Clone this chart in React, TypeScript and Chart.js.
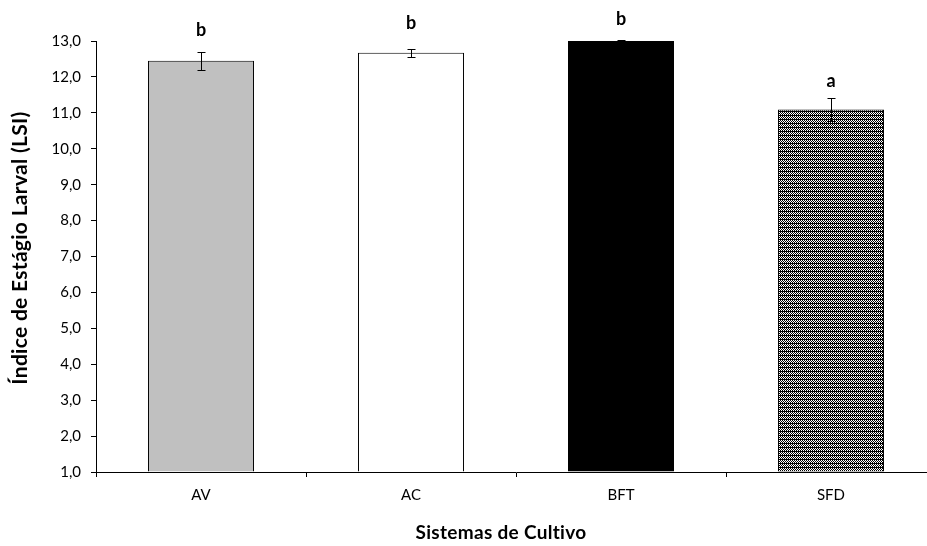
import React, { useEffect, useRef } from "react";
import { Chart, registerables } from "chart.js";

Chart.register(...registerables);

const categories = ["AV", "AC", "BFT", "SFD"];
const means = [12.45, 12.67, 13.0, 11.09];
const errors = [0.25, 0.12, 0.03, 0.33];
const letters = ["b", "b", "b", "a"];
const letterLevels = [13.13, 13.33, 13.44, 11.72];
const yMin = 1;
const yMax = 13;
const yStep = 1;
const yTitle = "Índice de Estágio Larval (LSI)";
const xTitle = "Sistemas de Cultivo";

const FONT = "Lato, 'Open Sans', sans-serif";

function makePattern(): CanvasPattern | string {
  const c = document.createElement("canvas");
  c.width = 2;
  c.height = 4;
  const g = c.getContext("2d");
  if (!g) return "#808080";
  g.fillStyle = "#ffffff";
  g.fillRect(0, 0, 2, 4);
  g.fillStyle = "#000000";
  g.fillRect(0, 0, 1, 1);
  g.fillRect(1, 1, 1, 1);
  g.fillRect(0, 2, 1, 1);
  g.fillRect(0, 3, 2, 1);
  const p = g.createPattern(c, "repeat");
  return p || "#808080";
}

const extrasPlugin = {
  id: "extras",
  afterDatasetsDraw(chart: any) {
    const ctx = chart.ctx;
    const y = chart.scales.y;
    const meta = chart.getDatasetMeta(0);
    ctx.save();
    ctx.strokeStyle = "#000";
    ctx.lineWidth = 1;
    meta.data.forEach((bar: any, i: number) => {
      const x = Math.round(bar.x) + 0.5;
      const top = Math.round(y.getPixelForValue(means[i] + errors[i])) + 0.5;
      const bot = Math.round(y.getPixelForValue(means[i] - errors[i])) + 0.5;
      ctx.beginPath();
      ctx.moveTo(x, top);
      ctx.lineTo(x, bot);
      ctx.moveTo(x - 4, top);
      ctx.lineTo(x + 4, top);
      ctx.moveTo(x - 4, bot);
      ctx.lineTo(x + 4, bot);
      ctx.stroke();
      ctx.fillStyle = "#000";
      ctx.font = `bold 18px ${FONT}`;
      ctx.textAlign = "center";
      ctx.textBaseline = "alphabetic";
      ctx.fillText(letters[i], bar.x, y.getPixelForValue(letterLevels[i]));
    });
    // axis titles
    ctx.fillStyle = "#000";
    ctx.textAlign = "center";
    ctx.textBaseline = "middle";
    try {
      (ctx as any).letterSpacing = "0.3px";
    } catch (e) {}
    ctx.font = `bold 19px ${FONT}`;
    ctx.fillText(xTitle, 501, 533);
    ctx.font = `bold 21px ${FONT}`;
    ctx.translate(20, 248);
    ctx.rotate(-Math.PI / 2);
    ctx.fillText(yTitle, 0, 0);
    ctx.restore();
  },
};

export default function App() {
  const ref = useRef<HTMLCanvasElement>(null);
  useEffect(() => {
    if (!ref.current) return;
    const pattern = makePattern();
    const chart = new Chart(ref.current, {
      type: "bar",
      data: {
        labels: categories,
        datasets: [
          {
            data: means,
            base: yMin,
            backgroundColor: ["#C0C0C0", "#FFFFFF", "#000000", pattern as any],
            borderColor: "#000",
            borderWidth: 1,
            categoryPercentage: 1,
            barPercentage: 0.505,
          } as any,
        ],
      },
      options: {
        animation: false,
        responsive: false,
        maintainAspectRatio: false,
        layout: { padding: { left: 0, top: 41, right: 4, bottom: 0 } },
        plugins: {
          legend: { display: false },
          tooltip: { enabled: false },
        },
        scales: {
          x: {
            offset: true,
            grid: {
              offset: true,
              drawOnChartArea: false,
              drawTicks: true,
              tickLength: 5,
              color: "#000",
            },
            border: { display: true, color: "#000", width: 1 },
            ticks: {
              color: "#000",
              font: { family: FONT, size: 15 },
              padding: 9,
            },
            afterFit(scale: any) {
              scale.height = 74;
            },
          },
          y: {
            min: yMin,
            max: yMax,
            grid: {
              drawOnChartArea: false,
              drawTicks: true,
              tickLength: 5,
              color: "#000",
            },
            border: { display: true, color: "#000", width: 1 },
            ticks: {
              stepSize: yStep,
              color: "#000",
              font: { family: FONT, size: 15 },
              padding: 10,
              callback: (v: any) => Number(v).toFixed(1).replace(".", ","),
            },
            afterFit(scale: any) {
              scale.width = 96;
            },
          },
        },
      },
      plugins: [extrasPlugin],
    });
    return () => chart.destroy();
  }, []);
  return (
    <div style={{ position: "fixed", left: 0, top: 0, width: 940, height: 546, overflow: "hidden", background: "#fff" }}>
      <canvas ref={ref} width={940} height={546} style={{ width: 940, height: 546, display: "block" }} />
    </div>
  );
}
